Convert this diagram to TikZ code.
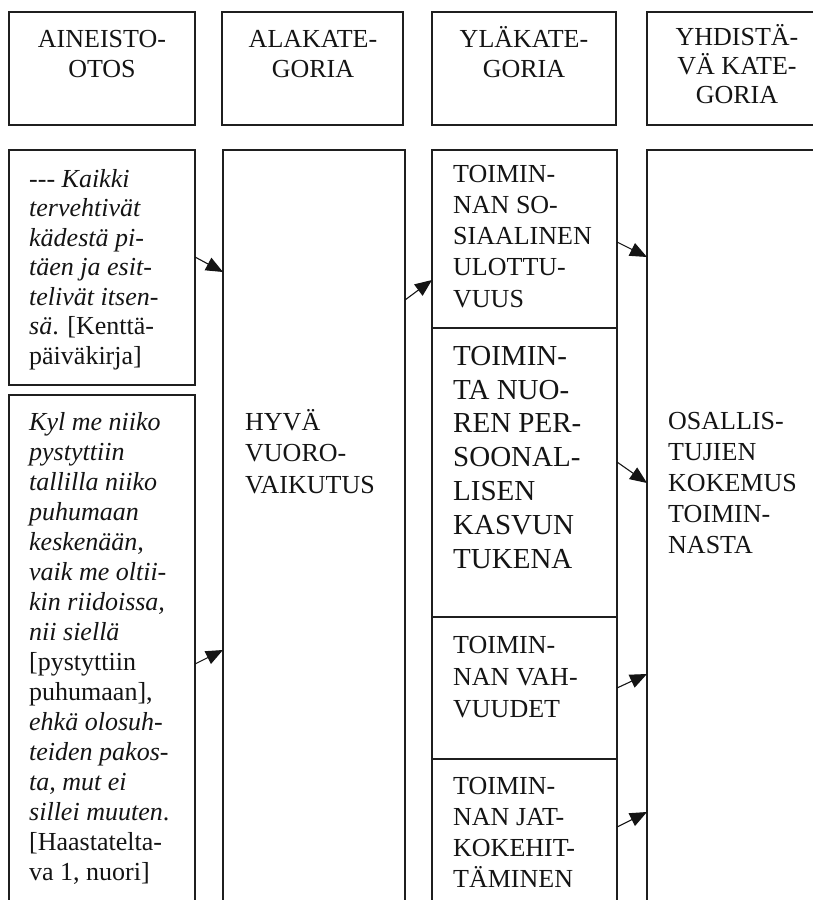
\documentclass[tikz,border=0pt]{standalone}
\usepackage{fontspec}
\setmainfont{Liberation Serif}
\usetikzlibrary{arrows.meta}
\begin{document}
\begin{tikzpicture}[x=1pt,y=-1pt,
  box/.style={draw=black!88, line width=1.2pt, rectangle, inner sep=0pt, outer sep=0pt, anchor=north west},
  txt/.style={inner sep=0pt, align=left, anchor=base west, text=black!92, font=\fontsize{26}{31}\selectfont},
  htxt/.style={inner sep=0pt, align=center, anchor=base, text=black!92, font=\fontsize{26}{30}\selectfont},
  arr/.style={draw=black!92, line width=1.1pt, -{Triangle[length=17pt,width=14pt]}}]
\useasboundingbox (0,0) rectangle (813,900);
\clip (0,0) rectangle (813,900);
% header boxes
\node[box, minimum width=186pt, minimum height=113pt] (h1) at (9,12) {};
\node[box, minimum width=181pt, minimum height=113pt] (h2) at (222,12) {};
\node[box, minimum width=184pt, minimum height=113pt] (h3) at (432,12) {};
\node[box, minimum width=185pt, minimum height=113pt] (h4) at (647,12) {};
% (multi-line nodes: base anchor = baseline of last line)
\node[htxt] (ht1) at (102,77) {AINEISTO-\\OTOS};
\node[htxt] (ht2) at (313,77) {ALAKATE-\\GORIA};
\node[htxt] (ht3) at (524,77) {YLÄKATE-\\GORIA};
\node[htxt, font=\fontsize{26}{29}\selectfont] (ht4) at (737,103) {YHDISTÄ-\\VÄ KATE-\\GORIA};
% column boxes
\node[box, minimum width=186pt, minimum height=235pt] (l1) at (9,150) {};
\node[box, minimum width=186pt, minimum height=530pt] (l2) at (9,395) {};
\node[box, minimum width=182pt, minimum height=775pt] (c2) at (223,150) {};
\node[box, minimum width=185pt, minimum height=178pt] (c31) at (432,150) {};
\node[box, minimum width=185pt, minimum height=289pt] (c32) at (432,328) {};
\node[box, minimum width=185pt, minimum height=142pt] (c33) at (432,617) {};
\node[box, minimum width=185pt, minimum height=166pt] (c34) at (432,759) {};
\node[box, minimum width=185pt, minimum height=775pt] (c4) at (647,150) {};
% texts
\node[txt, font=\fontsize{26}{29.5}\selectfont] (tl1) at (29,364)
  {\textit{-{}-{}- Kaikki}\\ \textit{tervehtivät}\\ \textit{kädestä pi-}\\ \textit{täen ja esit-}\\ \textit{telivät itsen-}\\ \textit{sä}. {[}Kenttä-\\ päiväkirja{]}};
\node[txt, font=\fontsize{26}{30}\selectfont] (tl2) at (29,880)
  {\textit{Kyl me niiko}\\ \textit{pystyttiin}\\ \textit{tallilla niiko}\\ \textit{puhumaan}\\ \textit{keskenään,}\\ \textit{vaik me oltii-}\\ \textit{kin riidoissa,}\\ \textit{nii siellä}\\ {[}pystyttiin\\ puhumaan{]},\\ \textit{ehkä olosuh-}\\ \textit{teiden pakos-}\\ \textit{ta, mut ei}\\ \textit{sillei muuten}.\\ {[}Haastatelta-\\ va 1, nuori{]}};
\node[txt, font=\fontsize{26}{31.5}\selectfont] (tc2) at (245,493) {HYVÄ\\ VUORO-\\ VAIKUTUS};
\node[txt, font=\fontsize{26}{31.25}\selectfont] (tc31) at (453,307) {TOIMIN-\\ NAN SO-\\ SIAALINEN\\ ULOTTU-\\ VUUS};
\node[txt, font=\fontsize{29}{33.8}\selectfont] (tc32) at (453,568) {TOIMIN-\\ TA NUO-\\ REN PER-\\ SOONAL-\\ LISEN\\ KASVUN\\ TUKENA};
\node[txt, font=\fontsize{26}{32}\selectfont] (tc33) at (453,717) {TOIMIN-\\ NAN VAH-\\ VUUDET};
\node[txt, font=\fontsize{26}{30.7}\selectfont] (tc34) at (453,887) {TOIMIN-\\ NAN JAT-\\ KOKEHIT-\\ TÄMINEN};
\node[txt, font=\fontsize{26}{30.8}\selectfont] (tc4) at (668,553) {OSALLIS-\\ TUJIEN\\ KOKEMUS\\ TOIMIN-\\ NASTA};
% arrows
\draw[arr] ([yshift=-107pt]l1.north east) -- ([yshift=-122pt]c2.north west);
\draw[arr] ([yshift=-269pt]l2.north east) -- ([yshift=-500pt]c2.north west);
\draw[arr] ([yshift=-150pt]c2.north east) -- ([yshift=-130pt]c31.north west);
\draw[arr] ([yshift=-92pt]c31.north east) -- ([yshift=-107pt]c4.north west);
\draw[arr] ([yshift=-134pt]c32.north east) -- ([yshift=-333pt]c4.north west);
\draw[arr] ([yshift=-71pt]c33.north east) -- ([yshift=-524pt]c4.north west);
\draw[arr] ([yshift=-68pt]c34.north east) -- ([yshift=-662pt]c4.north west);
\end{tikzpicture}
\end{document}
